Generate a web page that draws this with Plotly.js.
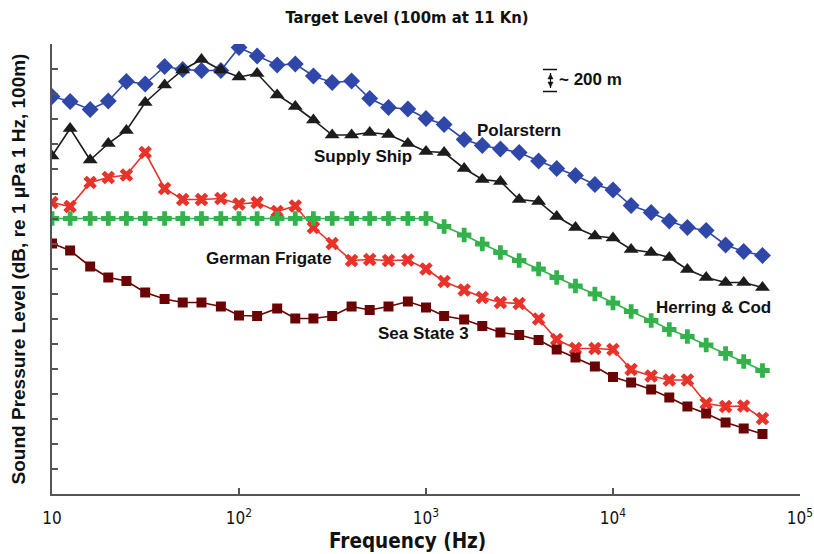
<!DOCTYPE html>
<html>
<head>
<meta charset="utf-8">
<script src="https://cdn.plot.ly/plotly-3.0.1.min.js"></script>
<style>html,body{margin:0;padding:0;background:#fff;}#chart{width:814px;height:554px;}</style>
</head>
<body>
<div id="chart"></div>
<script>
// 1/3-octave band centre frequencies (Hz)
const freq = [10,12.5,16,20,25,31.5,40,50,63,80,100,125,160,200,250,315,400,500,630,800,1000,1250,1600,2000,2500,3150,4000,5000,6300,8000,10000,12500,16000,20000,25000,31500,40000,50000,63000];

// Sound pressure level, relative units (dB)
const polarstern = [139.5,138.5,136.9,138.6,142.5,142.0,145.5,144.9,144.7,144.7,149.3,147.6,145.8,146.0,143.6,142.3,142.6,139.1,137.3,137.0,135.1,133.9,130.9,129.7,129.0,128.3,126.6,125.1,123.7,121.9,120.8,117.7,116.3,114.6,113.3,112.7,109.8,108.5,107.7];
const supplyShip = [127.6,133.1,126.8,130.1,132.7,138.3,141.8,144.8,146.9,144.8,143.4,144.1,139.8,137.5,134.8,131.8,131.8,132.3,131.9,130.1,128.5,128.3,125.1,122.9,122.5,118.9,118.5,115.5,113.3,111.6,111.2,108.9,108.3,107.3,104.9,103.3,102.3,102.3,101.3];
const germanFrigate = [118.3,117.5,122.3,123.3,123.8,128.3,121.1,118.9,118.9,119.1,118.0,118.3,116.5,117.6,113.3,110.1,106.7,106.9,106.7,106.8,105.0,102.5,100.8,99.3,98.3,98.1,95.0,90.9,89.1,89.1,88.9,84.9,83.6,82.8,82.8,78.1,77.5,77.6,75.1];
const herringCod = [115.1,115.1,115.1,115.1,115.1,115.1,115.1,115.1,115.1,115.1,115.1,115.1,115.1,115.1,115.1,115.1,115.1,115.1,115.1,115.1,115.1,113.5,111.8,110.0,108.3,106.7,105.0,103.3,101.6,100.0,98.2,96.5,94.7,92.9,91.5,89.8,88.1,86.5,84.7];
const seaState3 = [110.1,108.7,105.5,103.3,102.6,100.3,99.0,98.3,98.3,97.5,95.7,95.6,97.1,95.1,95.1,95.6,97.5,96.8,97.5,98.5,97.3,95.6,94.9,93.6,92.3,91.8,90.8,88.9,87.3,85.5,83.4,82.3,80.9,79.3,77.5,76.1,74.3,73.1,72.0];

const seriesNames = ["Polarstern","Supply Ship","German Frigate","Herring & Cod","Sea State 3"];
const xTickVals = [10,100,1000,10000,100000];
const xTickText = ["10","10<sup>2</sup>","10<sup>3</sup>","10<sup>4</sup>","10<sup>5</sup>"];

const styles = [
  {color:"#2f47a8", symbol:"diamond", size:13},
  {color:"#1c1c1c", symbol:"triangle-up", size:13},
  {color:"#e8332b", symbol:"x", size:12},
  {color:"#33b24b", symbol:"cross", size:12},
  {color:"#6a0304", symbol:"square", size:10}
];
const ys = [polarstern, supplyShip, germanFrigate, herringCod, seaState3];

const traces = ys.map((y,i)=>({
  x: freq, y: y, name: seriesNames[i], type:"scatter", mode:"lines+markers",
  line:{color:styles[i].color, width:1.6},
  marker:{color:styles[i].color, symbol:styles[i].symbol, size:styles[i].size, line:{width:0}}
}));

// plot area geometry (pixels)
const L=52, R=800, T=44, B=494, W=814, H=554;
const px = v => (v-L)/(R-L);
const py = v => (B-v)/(B-T);

const cond = "DejaVu Sans Condensed, Liberation Sans Narrow, sans-serif";
const sans = "Liberation Sans, Arial, Helvetica, sans-serif";

function label(text, x, y, anchor){
  return {text:"<b>"+text+"</b>", xref:"paper", yref:"paper", x:px(x), y:py(y),
    xanchor:anchor||"center", yanchor:"middle", showarrow:false,
    font:{family:sans, size:17, color:"#111"}};
}

const annotations = [
  label("Polarstern", 519, 130),
  label("Supply Ship", 363, 157),
  label("German Frigate", 269, 258),
  label("Herring & Cod", 713, 307),
  label("Sea State 3", 423, 334),
  label("~ 200 m", 557, 80, "left"),
  {text:"<b>Frequency (Hz)</b>", xref:"paper", yref:"paper", x:px(407), y:py(541),
   xanchor:"center", yanchor:"middle", showarrow:false, font:{family:cond, size:20.5, color:"#111"}}
];

const bx = 550.5;
const shapes = [
  {type:"line", xref:"paper", yref:"paper", x0:px(543), x1:px(557), y0:py(69.5), y1:py(69.5), line:{color:"#111", width:1.5}},
  {type:"line", xref:"paper", yref:"paper", x0:px(543), x1:px(557), y0:py(91.5), y1:py(91.5), line:{color:"#111", width:1.5}},
  {type:"line", xref:"paper", yref:"paper", x0:px(bx), x1:px(bx), y0:py(73), y1:py(88), line:{color:"#111", width:1.2}},
  {type:"path", xref:"paper", yref:"paper",
   path:`M ${px(bx)},${py(74)} L ${px(bx-2.6)},${py(79)} L ${px(bx+2.6)},${py(79)} Z`,
   fillcolor:"#111", line:{color:"#111", width:0.5}},
  {type:"path", xref:"paper", yref:"paper",
   path:`M ${px(bx)},${py(87)} L ${px(bx-2.6)},${py(82)} L ${px(bx+2.6)},${py(82)} Z`,
   fillcolor:"#111", line:{color:"#111", width:0.5}}
];

const layout = {
  width:W, height:H,
  margin:{l:L, r:W-R, t:T, b:H-B, pad:0},
  paper_bgcolor:"#fff", plot_bgcolor:"#fff",
  showlegend:false,
  title:{text:"<b>Target Level (100m at 11 Kn)</b>", x:0.5, xref:"container", xanchor:"center",
         y:1-17/H, yref:"container", yanchor:"middle", font:{family:cond, size:16.5, color:"#111"}},
  xaxis:{type:"log", range:[1,5], tickvals:xTickVals, ticktext:xTickText,
         ticks:"inside", ticklen:6, tickwidth:1.5, tickcolor:"#555", ticklabelstandoff:8,
         showline:true, linecolor:"#555", linewidth:2, showgrid:false, zeroline:false,
         tickfont:{family:cond, size:17, color:"#111"}},
  yaxis:{range:[60,150], dtick:5, tick0:60, ticks:"inside", ticklen:6, tickwidth:1.5, tickcolor:"#555",
         showticklabels:false, showline:true, linecolor:"#555", linewidth:2, showgrid:false, zeroline:false,
         title:{text:"<b>Sound Pressure Level (dB, re 1 μPa 1 Hz, 100m)</b>", standoff:19,
                font:{family:sans, size:19, color:"#111"}}},
  annotations:annotations,
  shapes:shapes
};

Plotly.newPlot("chart", traces, layout, {displayModeBar:false, staticPlot:true});
</script>
</body>
</html>
